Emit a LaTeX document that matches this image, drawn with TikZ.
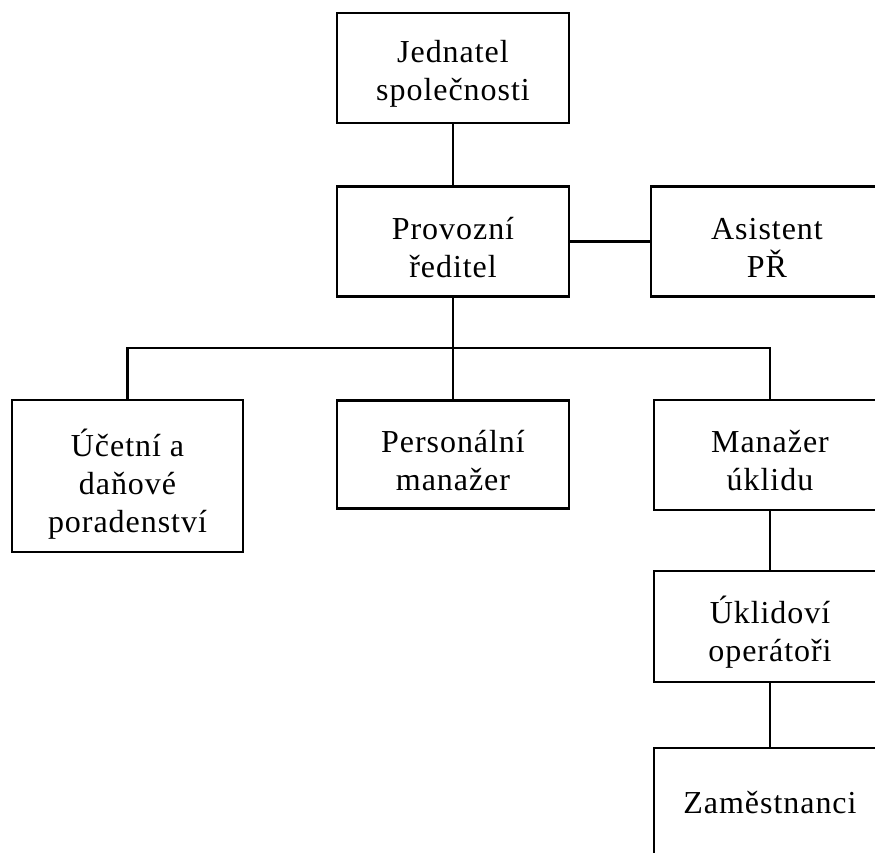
\documentclass[tikz,border=0pt]{standalone}
\usepackage{fontspec}
\setmainfont[LetterSpace=3]{Liberation Serif}
\begin{document}
\begin{tikzpicture}[x=1pt,y=-1pt,
  box/.style={draw=black, line width=2.2pt, fill=white, inner sep=0pt,
    minimum width=232pt, minimum height=110pt},
  txt/.style={inner sep=0pt, align=center, font=\fontsize{32}{38}\selectfont},
  two/.style={txt, yshift=-6pt},
  three/.style={txt, yshift=-8pt},
  link/.style={draw=black, line width=2.2pt}]
\useasboundingbox (0,0) rectangle (875,852);
\clip (0,0) rectangle (875,852);
\node[box] (jed) at (453,68) {};
\node[box] (pro) at (453,241.5) {};
\node[box] (asi) at (767,241.5) {};
\node[box, minimum width=231pt, minimum height=152pt] (uce) at (127.5,476) {};
\node[box, minimum height=108pt] (per) at (453,454.5) {};
\node[box] (man) at (770,455) {};
\node[box, minimum height=111pt] (ukl) at (770,626.5) {};
\node[box] (zam) at (770,803) {};
\node[two] (jedt) at (jed) {Jednatel\\společnosti};
\node[two] (prot) at (pro) {Provozní\\ředitel};
\node[two] (asit) at (asi) {Asistent\\PŘ};
\node[three] (ucet) at (uce) {Účetní a\\daňové\\poradenství};
\node[two] (pert) at (per) {Personální\\manažer};
\node[two] (mant) at (man) {Manažer\\úklidu};
\node[two] (uklt) at (ukl) {Úklidoví\\operátoři};
\node[txt] (zamt) at (zam) {Zaměstnanci};
\coordinate (bus) at (453,348);
\draw[link] (jed.south) -- (pro.north);
\draw[link] (pro.east) -- (asi.west);
\draw[link] (pro.south) -- (per.north);
\draw[link] (uce.north) |- (bus) -| (man.north);
\draw[link] (man.south) -- (ukl.north);
\draw[link] (ukl.south) -- (zam.north);
\end{tikzpicture}
\end{document}
